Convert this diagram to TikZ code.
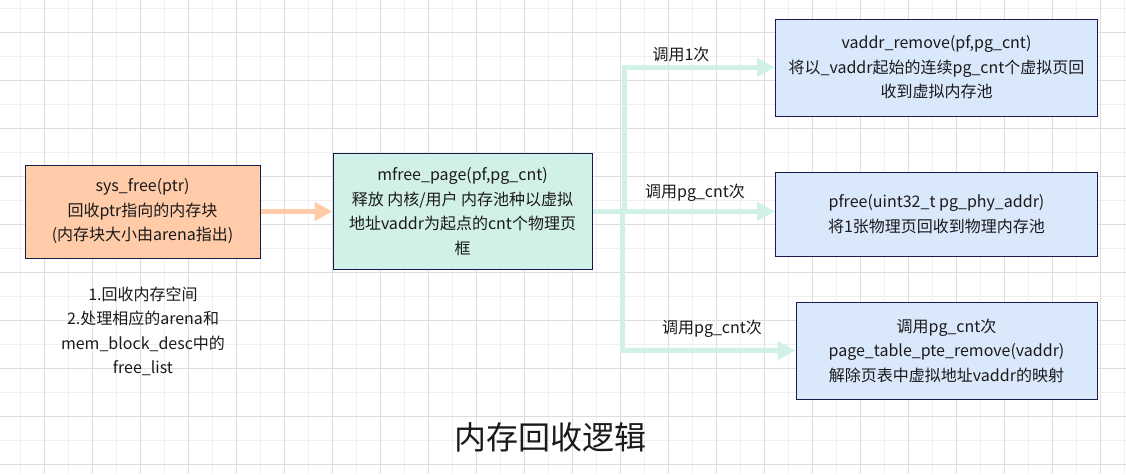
\documentclass[tikz,border=0pt]{standalone}
\usepackage{fontspec}
\setmainfont{Noto Sans CJK SC}
\usetikzlibrary{arrows.meta}
\definecolor{peach}{HTML}{FFCBA8}
\definecolor{mint}{HTML}{D1F0E8}
\definecolor{paleblue}{HTML}{DAE8FC}
\definecolor{navy}{HTML}{1A1A4D}
\definecolor{inktext}{HTML}{1A1A1A}
\definecolor{gridminor}{HTML}{EFEFEF}
\definecolor{gridmajor}{HTML}{DDDDDD}
\tikzset{
  box/.style={draw=navy, line width=1pt, align=center, inner sep=2pt,
    text=inktext, font=\fontsize{16}{24.5}\selectfont},
  plain/.style={align=center, text=inktext, font=\fontsize{16}{24.5}\selectfont},
  peachline/.style={draw=peach, line width=5pt, -{Triangle[length=18pt,width=18pt]}},
  mintline/.style={draw=mint, line width=5pt, -{Triangle[length=18pt,width=18pt]}},
}
\begin{document}
\begin{tikzpicture}[x=1pt,y=-1pt]
      \useasboundingbox[fill=white] (0,0) rectangle (1126,474);
      % background grid
      \foreach \gx in {20,44,...,1124} \draw[gridminor] (\gx,0) -- (\gx,474);
      \foreach \gy in {8,32,...,472} \draw[gridminor] (0,\gy) -- (1126,\gy);
      \foreach \gx in {44,92,...,1124} \draw[gridmajor] (\gx,0) -- (\gx,474);
      \foreach \gy in {32,80,...,472} \draw[gridmajor] (0,\gy) -- (1126,\gy);
      % boxes
      \node[box, fill=peach, minimum width=235pt, minimum height=93pt] (sysfree) at (142.5,211.5)
        {sys\_free(ptr)\\回收ptr指向的内存块\\(内存块大小由arena指出)};
      \node[box, fill=mint, minimum width=259pt, minimum height=116pt] (mfree) at (462.5,211.5)
        {mfree\_page(pf,pg\_cnt)\\释放 内核/用户 内存池种以虚拟\\地址vaddr为起点的cnt个物理页\\框};
      \node[box, fill=paleblue, minimum width=322pt, minimum height=97pt] (vaddr) at (936.5,67.5)
        {vaddr\_remove(pf,pg\_cnt)\\将以\_vaddr起始的连续pg\_cnt个虚拟页回\\收到虚拟内存池};
      \node[box, fill=paleblue, minimum width=322pt, minimum height=84pt] (pfree) at (936.5,214)
        {pfree(uint32\_t pg\_phy\_addr)\\将1张物理页回收到物理内存池};
      \node[box, fill=paleblue, minimum width=301pt, minimum height=97pt] (pte) at (946.5,350.5)
        {调用pg\_cnt次\\page\_table\_pte\_remove(vaddr)\\解除页表中虚拟地址vaddr的映射};
      \node[plain] (note) at (143,331.5)
        {1.回收内存空间\\2.处理相应的arena和\\mem\_block\_desc中的\\free\_list};
      % connectors
      \draw[peachline] (sysfree) -- (mfree);
      \draw[mintline] (mfree.east) -- ++(32,0) |- (vaddr.west);
      \draw[mintline] (mfree.east) -- ++(30,0) |- (pte.west);
      \draw[mintline] (mfree.east) -- (pfree.west |- mfree.east);
      \node[plain] (lbltop) at (681,54) {调用1次};
      \node[plain] (lblmid) at (695,193) {调用pg\_cnt次};
      \node[plain] (lblbot) at (712,329) {调用pg\_cnt次};
      % title
      \node[text=inktext, font=\fontsize{32}{38}\selectfont] (title) at (550,437) {内存回收逻辑};
    \end{tikzpicture}
\end{document}
